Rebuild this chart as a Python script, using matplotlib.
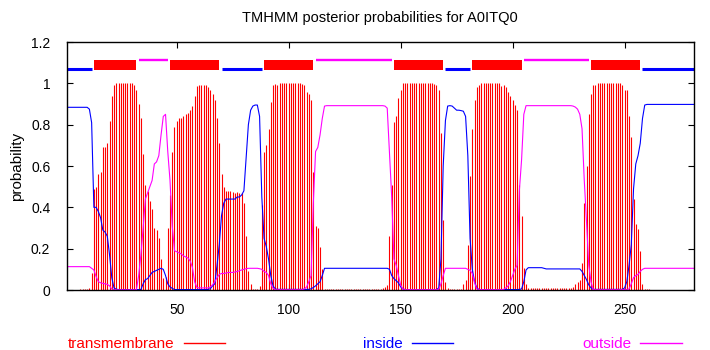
import numpy as np
import matplotlib
matplotlib.use("Agg")
import matplotlib.pyplot as plt
from matplotlib.lines import Line2D

# posterior probabilities per residue, residues 1..281
tm = [
    0, 0, 0, 0, 0, 0, 0.005, 0.005, 0.005, 0.005,                      # 1
    0.01, 0.08, 0.49, 0.50, 0.56, 0.57, 0.69, 0.69, 0.71, 0.82,        # 11
    0.94, 0.99, 1.0, 1.0, 1.0, 1.0, 1.0, 1.0, 1.0, 1.0,                # 21
    0.99, 0.97, 0.90, 0.83, 0.66, 0.51, 0.48, 0.43, 0.39, 0.30,        # 31
    0.29, 0.25, 0.15, 0.06, 0.065, 0.30, 0.46, 0.67, 0.79, 0.82,       # 41
    0.83, 0.83, 0.84, 0.85, 0.855, 0.87, 0.89, 0.94, 0.985, 0.99,      # 51
    0.99, 0.99, 0.99, 0.98, 0.97, 0.95, 0.92, 0.83, 0.71, 0.56,        # 61
    0.50, 0.48, 0.48, 0.48, 0.475, 0.47, 0.475, 0.47, 0.47, 0.42,      # 71
    0.26, 0.09, 0.03, 0.005, 0.005, 0.005, 0.02, 0.41, 0.67, 0.70,     # 81
    0.78, 0.91, 0.99, 0.995, 0.99, 1.0, 1.0, 1.0, 1.0, 1.0,            # 91
    1.0, 1.0, 1.0, 1.0, 1.0, 0.995, 0.99, 0.96, 0.95, 0.92,            # 101
    0.57, 0.31, 0.30, 0.21, 0.10, 0.003, 0.003, 0.003, 0.003, 0.003,   # 111
    0.003, 0.003, 0.003, 0.003, 0.003, 0.003, 0.003, 0.003, 0.003, 0.003,  # 121
    0.003, 0.003, 0.003, 0.003, 0.003, 0.003, 0.003, 0.003, 0.003, 0.003,  # 131
    0.005, 0.008, 0.015, 0.024, 0.26, 0.51, 0.815, 0.84, 0.93, 0.97,   # 141
    1.0, 1.0, 1.0, 1.0, 1.0, 1.0, 1.0, 1.0, 1.0, 1.0,                  # 151
    1.0, 1.0, 1.0, 1.0, 0.995, 0.99, 0.97, 0.76, 0.34, 0.04,           # 161
    0.01, 0.005, 0.005, 0.005, 0.005, 0.005, 0.005, 0.03, 0.05, 0.22,  # 171
    0.55, 0.78, 0.92, 0.98, 0.99, 1.0, 1.0, 1.0, 1.0, 1.0,             # 181
    1.0, 1.0, 1.0, 1.0, 0.985, 0.99, 0.98, 0.96, 0.94, 0.92,           # 191
    0.895, 0.87, 0.51, 0.36, 0.105, 0.027, 0.01, 0.008, 0.008, 0.008,  # 201
    0.008, 0.008, 0.008, 0.008, 0.008, 0.008, 0.008, 0.008, 0.008, 0.008,  # 211
    0.008, 0.008, 0.008, 0.008, 0.008, 0.008, 0.015, 0.03, 0.04, 0.05,     # 221
    0.13, 0.42, 0.60, 0.85, 0.95, 0.99, 0.99, 1.0, 1.0, 1.0,           # 231
    1.0, 1.0, 1.0, 1.0, 1.0, 1.0, 1.0, 1.0, 0.99, 0.97,                # 241
    0.97, 0.84, 0.74, 0.44, 0.32, 0.295, 0.19, 0.03, 0.003, 0.003,     # 251
    0.003, 0, 0, 0, 0, 0, 0, 0, 0, 0,                                  # 261
    0, 0, 0, 0, 0, 0, 0, 0, 0, 0,                                      # 271
    0,                                                                 # 281
]

inside = [
    0.884, 0.884, 0.884, 0.884, 0.884, 0.884, 0.884, 0.884, 0.884, 0.884,
    0.875, 0.81, 0.40, 0.40, 0.38, 0.35, 0.29, 0.28, 0.26, 0.17,
    0.06, 0.01, 0.004, 0.002, 0.002, 0.002, 0.002, 0.002, 0.002, 0.002,
    0.002, 0.002, 0.002, 0.002, 0.03, 0.05, 0.055, 0.07, 0.085, 0.09,
    0.095, 0.10, 0.105, 0.10, 0.07, 0.03, 0.015, 0.008, 0.002, 0.002,
    0.002, 0.002, 0.002, 0.002, 0.002, 0.002, 0.002, 0.002, 0.002, 0.002,
    0.002, 0.002, 0.002, 0.003, 0.006, 0.02, 0.03, 0.12, 0.22, 0.36,
    0.42, 0.44, 0.44, 0.44, 0.44, 0.44, 0.45, 0.45, 0.46, 0.48,
    0.64, 0.80, 0.87, 0.89, 0.895, 0.895, 0.84, 0.45, 0.25, 0.21,
    0.15, 0.07, 0.02, 0.005, 0.003, 0.003, 0.003, 0.003, 0.003, 0.003,
    0.003, 0.003, 0.003, 0.003, 0.003, 0.003, 0.003, 0.003, 0.003, 0.006,
    0.012, 0.02, 0.03, 0.04, 0.07, 0.105, 0.105, 0.105, 0.105, 0.105,
    0.105, 0.105, 0.105, 0.105, 0.105, 0.105, 0.105, 0.105, 0.105, 0.105,
    0.105, 0.105, 0.105, 0.105, 0.105, 0.105, 0.105, 0.105, 0.105, 0.105,
    0.105, 0.105, 0.105, 0.105, 0.10, 0.07, 0.055, 0.045, 0.035, 0.015,
    0.005, 0.002, 0.002, 0.002, 0.002, 0.002, 0.002, 0.002, 0.002, 0.002,
    0.002, 0.002, 0.002, 0.002, 0.002, 0.002, 0.01, 0.15, 0.60, 0.82,
    0.89, 0.892, 0.89, 0.88, 0.87, 0.87, 0.868, 0.865, 0.84, 0.65,
    0.25, 0.10, 0.04, 0.01, 0.002, 0.002, 0.002, 0.002, 0.002, 0.002,
    0.002, 0.002, 0.002, 0.002, 0.002, 0.002, 0.002, 0.002, 0.002, 0.002,
    0.002, 0.002, 0.003, 0.005, 0.04, 0.097, 0.108, 0.108, 0.108, 0.108,
    0.108, 0.108, 0.108, 0.105, 0.102, 0.102, 0.102, 0.102, 0.102, 0.102,
    0.102, 0.102, 0.102, 0.102, 0.102, 0.102, 0.102, 0.102, 0.102, 0.102,
    0.09, 0.07, 0.05, 0.025, 0.01, 0.003, 0.003, 0.003, 0.003, 0.003,
    0.003, 0.003, 0.003, 0.003, 0.003, 0.003, 0.003, 0.003, 0.003, 0.01,
    0.04, 0.12, 0.22, 0.49, 0.61, 0.65, 0.71, 0.83, 0.895, 0.898,
    0.898, 0.898, 0.898, 0.898, 0.898, 0.898, 0.898, 0.898, 0.898, 0.898,
    0.898, 0.898, 0.898, 0.898, 0.898, 0.898, 0.898, 0.898, 0.898, 0.898,
    0.898,
]

outside = [
    0.113, 0.113, 0.113, 0.113, 0.113, 0.113, 0.113, 0.113, 0.113, 0.113,
    0.113, 0.105, 0.097, 0.065, 0.04, 0.035, 0.032, 0.03, 0.027, 0.02,
    0.005, 0.001, 0.001, 0.001, 0.001, 0.001, 0.001, 0.001, 0.001, 0.001,
    0.001, 0.001, 0.07, 0.17, 0.30, 0.44, 0.47, 0.50, 0.53, 0.61,
    0.62, 0.65, 0.75, 0.84, 0.85, 0.67, 0.53, 0.31, 0.19, 0.185,
    0.18, 0.175, 0.165, 0.16, 0.155, 0.14, 0.11, 0.04, 0.012, 0.01,
    0.01, 0.01, 0.01, 0.01, 0.015, 0.025, 0.04, 0.06, 0.075, 0.08,
    0.08, 0.082, 0.085, 0.085, 0.085, 0.087, 0.09, 0.093, 0.097, 0.10,
    0.103, 0.105, 0.105, 0.105, 0.105, 0.105, 0.103, 0.10, 0.09, 0.085,
    0.07, 0.03, 0.008, 0.002, 0.002, 0.002, 0.002, 0.002, 0.002, 0.002,
    0.002, 0.002, 0.002, 0.002, 0.002, 0.002, 0.005, 0.015, 0.04, 0.07,
    0.42, 0.67, 0.69, 0.75, 0.83, 0.89, 0.892, 0.892, 0.892, 0.892,
    0.892, 0.892, 0.892, 0.892, 0.892, 0.892, 0.892, 0.892, 0.892, 0.892,
    0.892, 0.892, 0.892, 0.892, 0.892, 0.892, 0.892, 0.892, 0.892, 0.892,
    0.892, 0.892, 0.89, 0.88, 0.66, 0.45, 0.15, 0.12, 0.07, 0.024,
    0.005, 0.002, 0.002, 0.002, 0.002, 0.002, 0.002, 0.002, 0.002, 0.002,
    0.002, 0.002, 0.002, 0.002, 0.002, 0.002, 0.002, 0.03, 0.07, 0.105,
    0.105, 0.105, 0.105, 0.105, 0.105, 0.105, 0.105, 0.105, 0.105, 0.10,
    0.095, 0.08, 0.035, 0.005, 0.002, 0.002, 0.002, 0.002, 0.002, 0.002,
    0.002, 0.002, 0.002, 0.002, 0.002, 0.003, 0.01, 0.02, 0.04, 0.07,
    0.10, 0.12, 0.48, 0.63, 0.85, 0.892, 0.892, 0.892, 0.892, 0.892,
    0.892, 0.892, 0.892, 0.892, 0.892, 0.892, 0.892, 0.892, 0.892, 0.892,
    0.892, 0.892, 0.892, 0.892, 0.892, 0.892, 0.89, 0.885, 0.875, 0.85,
    0.78, 0.53, 0.33, 0.12, 0.04, 0.002, 0.002, 0.002, 0.002, 0.002,
    0.002, 0.002, 0.002, 0.002, 0.002, 0.002, 0.002, 0.002, 0.002, 0.002,
    0.002, 0.005, 0.03, 0.06, 0.07, 0.075, 0.09, 0.10, 0.105, 0.105,
    0.105, 0.105, 0.105, 0.105, 0.105, 0.105, 0.105, 0.105, 0.105, 0.105,
    0.105, 0.105, 0.105, 0.105, 0.105, 0.105, 0.105, 0.105, 0.105, 0.105,
    0.105,
]

# predicted topology
seg_start = [1, 13, 33, 47, 70, 89, 112, 147, 170, 182, 205, 235, 258]
seg_end = [12, 32, 46, 69, 88, 111, 146, 169, 181, 204, 234, 257, 281]
seg_kind = ["inside", "TMhelix", "outside", "TMhelix", "inside", "TMhelix", "outside",
            "TMhelix", "inside", "TMhelix", "outside", "TMhelix", "inside"]

xticks = [50, 100, 150, 200, 250]
yticks = [0, 0.2, 0.4, 0.6, 0.8, 1.0, 1.2]
ytick_labels = ["0", "0.2", "0.4", "0.6", "0.8", "1", "1.2"]

RED = "#ff0000"
BLUE = "#0000ff"
MAGENTA = "#ff00ff"

plt.rcParams["font.family"] = ["Liberation Sans", "DejaVu Sans"]

fig = plt.figure(figsize=(7.1, 3.5), dpi=100)
ax = fig.add_axes([67 / 710, 60 / 350, 627 / 710, 248 / 350])

residues = np.arange(1, len(tm) + 1)
ax.vlines(residues, 0, tm, colors=RED, linewidth=0.8)
ax.plot(residues, inside, color=BLUE, linewidth=0.8)
ax.plot(residues, outside, color=MAGENTA, linewidth=0.8)

for s, e, k in zip(seg_start, seg_end, seg_kind):
    if k == "TMhelix":
        ax.fill_between([s, e], 1.064, 1.113, color=RED, linewidth=0)
    elif k == "inside":
        ax.plot([s, e], [1.068, 1.068], color=BLUE, linewidth=2.2, solid_capstyle="butt")
    else:
        ax.plot([s, e], [1.111, 1.111], color=MAGENTA, linewidth=1.7, solid_capstyle="butt")

ax.set_xlim(1, len(tm))
ax.set_ylim(0, 1.2)
ax.set_xticks(xticks)
ax.set_yticks(yticks)
ax.set_yticklabels(ytick_labels)
ax.tick_params(direction="in", length=4, width=0.8, top=True, right=True,
               labelsize=10)
ax.tick_params(axis="y", pad=12)
ax.tick_params(axis="x", pad=9)
for sp in ax.spines.values():
    sp.set_linewidth(1)

fig.text(380 / 710, 1 - 18 / 350, "TMHMM posterior probabilities for A0ITQ0",
         ha="center", va="center", fontsize=10.5)
fig.text(17 / 710, 1 - 166 / 350, "probability", rotation=90,
         ha="center", va="center", fontsize=11)

# key below the plot, text followed by a line sample
legend_items = [("transmembrane", RED, 68), ("inside", BLUE, 363), ("outside", MAGENTA, 582)]
for label, color, x0 in legend_items:
    h = Line2D([], [], color=color, linewidth=1)
    fig.legend([h], [label], loc="center left", bbox_to_anchor=(x0 / 710, 1 - 344 / 350),
               frameon=False, markerfirst=False, handlelength=2.7, handletextpad=0.6,
               borderpad=0, borderaxespad=0, fontsize=11, labelcolor=color)

fig.savefig("out.png", dpi=100)
